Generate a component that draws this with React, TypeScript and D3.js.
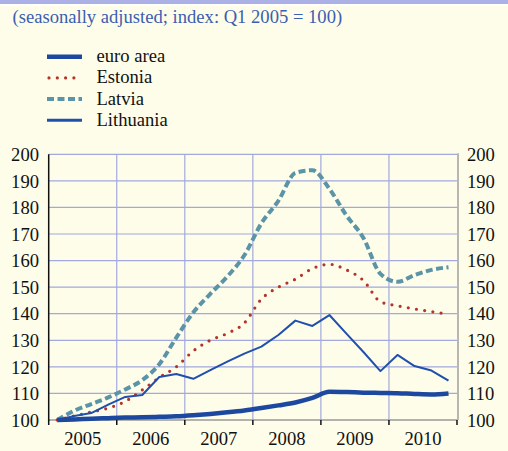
import React, { useEffect, useRef } from "react";
import * as d3 from "d3";

// quarterly data, Q1 2005 .. Q4 2010
const years = ["2005", "2006", "2007", "2008", "2009", "2010"];
const yTicks = [100, 110, 120, 130, 140, 150, 160, 170, 180, 190, 200];

const euroArea = [100, 100.2, 100.5, 100.7, 100.9, 101, 101.2, 101.4, 101.8, 102.3, 102.9, 103.6,
  104.5, 105.5, 106.6, 108.3, 110.6, 110.5, 110.3, 110.2, 110.1, 109.8, 109.6, 110];
const estonia = [100, 101.5, 103, 104.5, 107, 111.3, 116, 120, 126, 130, 132.6, 136.5,
  145.5, 150, 153, 157, 158.6, 156.5, 152.5, 144.5, 143, 141.8, 140.8, 139.8];
const latvia = [100, 103.5, 106, 108.5, 111.5, 115, 121, 131, 140.5, 147.5, 154, 162,
  174, 182.5, 193, 194, 187, 177, 168.5, 155, 152, 154.5, 156.5, 157.5];
const lithuania = [100, 101.5, 102.6, 105.8, 108.7, 109.4, 116.2, 117.3, 115.5, 118.8, 122, 125,
  127.6, 132, 137.4, 135.4, 139.5, 132.5, 125.6, 118.4, 124.5, 120.3, 118.6, 114.8];

interface Series {
  name: string;
  values: number[];
  color: string;
  width: number;
  dash?: string;
  cap?: string;
  smooth: boolean;
}

const series: Series[] = [
  { name: "euro area", values: euroArea, color: "#1d48a0", width: 4.5, smooth: true },
  { name: "Estonia", values: estonia, color: "#b3342c", width: 3.2, dash: "0 8.3", cap: "round", smooth: true },
  { name: "Latvia", values: latvia, color: "#5a94a6", width: 4, dash: "7 3.5", smooth: true },
  { name: "Lithuania", values: lithuania, color: "#2050ad", width: 2, smooth: false },
];

const W = 508;
const H = 451;
const margin = { top: 154.3, right: 51, bottom: 31, left: 48.7 };
const FONT = "Liberation Serif";

export default function App() {
  const svgRef = useRef<SVGSVGElement>(null);

  useEffect(() => {
    if (!svgRef.current) return;
    const svg = d3.select(svgRef.current);
    svg.selectAll("*").remove();

    // background
    svg.append("rect").attr("width", W).attr("height", H).attr("fill", "#fefde9");
    svg.append("rect").attr("width", W).attr("height", 4).attr("fill", "#abb1e4");
    svg.append("rect").attr("y", 4).attr("width", W).attr("height", 2).attr("fill", "#ffffff");

    const txt = (sel: d3.Selection<SVGTextElement, unknown, null, undefined>) =>
      sel.style("font-family", FONT).style("font-size", "18.6px");

    // title
    svg.append("text")
      .attr("x", 12.5).attr("y", 23)
      .attr("fill", "#3c5eb2")
      .call(txt)
      .text("(seasonally adjusted; index: Q1 2005 = 100)");

    // legend
    series.forEach((s, i) => {
      const ly = 56.7 + i * 21.2;
      svg.append("line")
        .attr("x1", s.cap ? 49 : 47).attr("x2", 82)
        .attr("y1", ly).attr("y2", ly)
        .attr("stroke", s.color)
        .attr("stroke-width", s.name === "Lithuania" ? 3 : s.width)
        .attr("stroke-dasharray", s.dash ?? null)
        .attr("stroke-linecap", s.cap ?? "butt");
      svg.append("text")
        .attr("x", 96.5).attr("y", ly + 5.5)
        .attr("fill", "#111")
        .call(txt)
        .text(s.name);
    });

    const x = d3.scaleLinear().domain([0, 24]).range([margin.left, W - margin.right]);
    const y = d3.scaleLinear().domain([100, 200]).range([H - margin.bottom, margin.top]);

    // grid
    const grid = svg.append("g").attr("stroke", "#a2a9de").attr("stroke-width", 1.2);
    yTicks.filter(t => t > 100).forEach(t => {
      grid.append("line")
        .attr("x1", x(0)).attr("x2", x(24))
        .attr("y1", y(t)).attr("y2", y(t));
    });
    years.forEach((_, i) => {
      if (i === 0) return;
      grid.append("line")
        .attr("x1", x(i * 4)).attr("x2", x(i * 4))
        .attr("y1", y(200)).attr("y2", y(100));
    });

    // axes lines
    svg.append("line")
      .attr("x1", x(0)).attr("x2", x(24)).attr("y1", y(100)).attr("y2", y(100))
      .attr("stroke", "#9a9a9a").attr("stroke-width", 1.5);
    svg.append("line")
      .attr("x1", x(24) + 1).attr("x2", x(24) + 1).attr("y1", y(200) - 1).attr("y2", y(100))
      .attr("stroke", "#8a8a8a").attr("stroke-width", 1.2);
    years.concat([""]).forEach((_, i) => {
      svg.append("line")
        .attr("x1", x(i * 4)).attr("x2", x(i * 4))
        .attr("y1", y(100)).attr("y2", y(100) + 5)
        .attr("stroke", "#111").attr("stroke-width", 1.5);
    });

    // y labels
    yTicks.forEach(t => {
      svg.append("text")
        .attr("x", 39).attr("y", y(t)).attr("dy", "0.36em")
        .attr("text-anchor", "end")
        .attr("fill", "#111")
        .call(txt)
        .text(t);
      svg.append("text")
        .attr("x", 467).attr("y", y(t)).attr("dy", "0.36em")
        .attr("fill", "#111")
        .call(txt)
        .text(t);
    });

    // year labels
    years.forEach((yr, i) => {
      svg.append("text")
        .attr("x", x(i * 4 + 2)).attr("y", 445)
        .attr("text-anchor", "middle")
        .attr("fill", "#111")
        .call(txt)
        .text(yr);
    });

    // series lines (plotted mid-quarter)
    const order = [series[2], series[1], series[3], series[0]];
    order.forEach(s => {
      const line = d3.line<number>()
        .x((_, i) => x(i + 0.5))
        .y(d => y(d))
        .curve(s.smooth ? d3.curveMonotoneX : d3.curveLinear);
      svg.append("path")
        .datum(s.values)
        .attr("fill", "none")
        .attr("stroke", s.color)
        .attr("stroke-width", s.width)
        .attr("stroke-dasharray", s.dash ?? null)
        .attr("stroke-linecap", s.cap ?? "butt")
        .attr("stroke-linejoin", "round")
        .attr("d", line);
    });

    // left axis line on top
    svg.append("line")
      .attr("x1", x(0)).attr("x2", x(0)).attr("y1", y(200)).attr("y2", y(100) + 1)
      .attr("stroke", "#111").attr("stroke-width", 1.5);
  }, []);

  return (
    <svg
      ref={svgRef}
      width={W}
      height={H}
      style={{ position: "absolute", left: 0, top: 0, display: "block" }}
    />
  );
}
